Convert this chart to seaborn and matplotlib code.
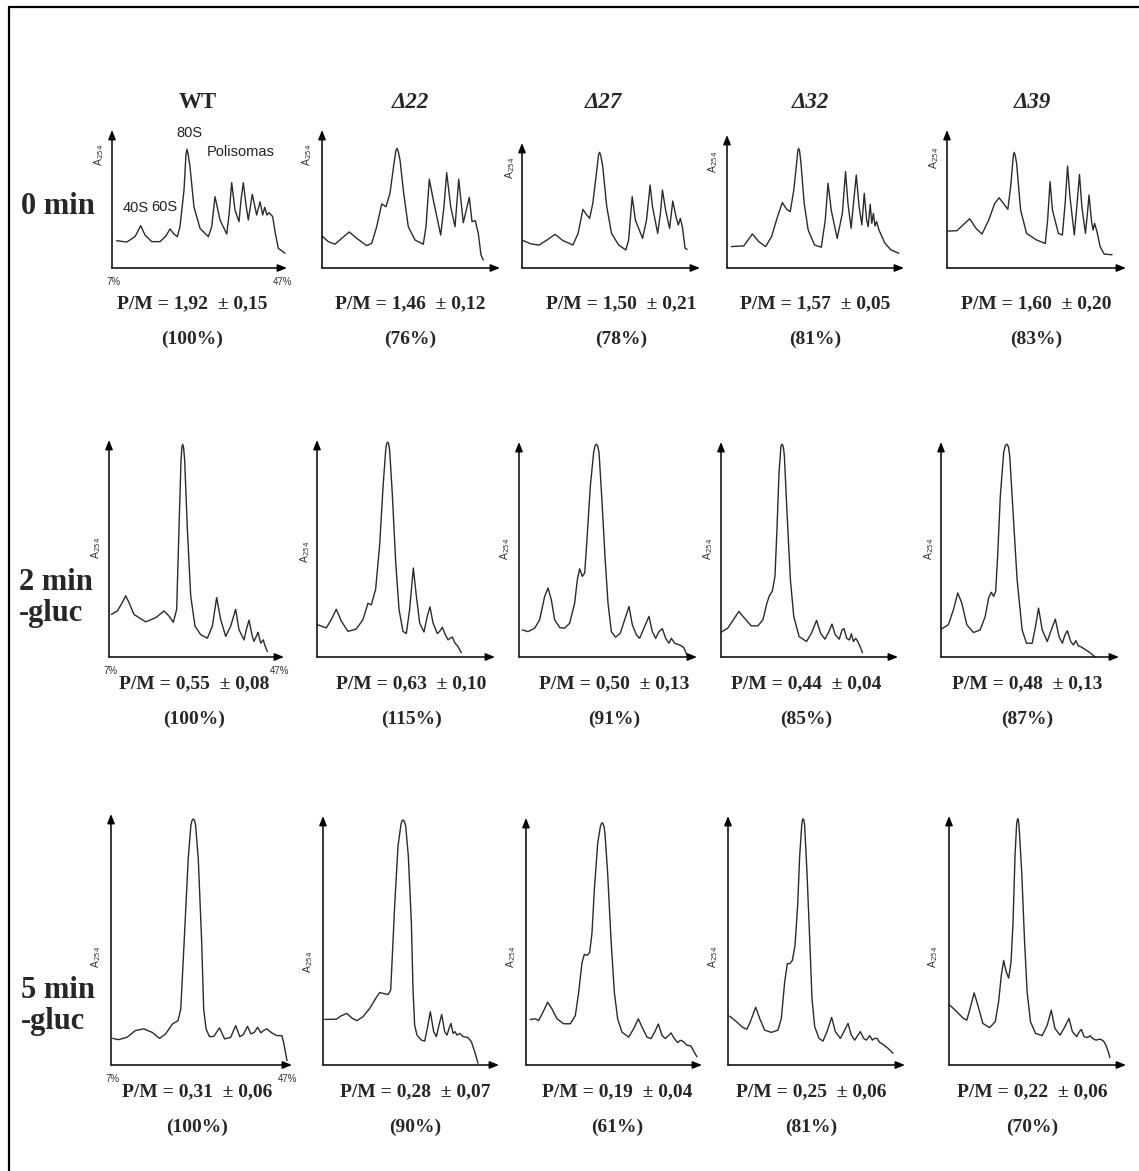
import matplotlib
matplotlib.use("Agg")
import matplotlib.pyplot as plt
from matplotlib.lines import Line2D
import seaborn as sns

# ---------------- data ----------------
strains = ["WT", "Δ22", "Δ27", "Δ32", "Δ39"]
conditions = ["0 min", "2 min\n-gluc", "5 min\n-gluc"]

pm_values = [["1,92", "1,46", "1,50", "1,57", "1,60"],
             ["0,55", "0,63", "0,50", "0,44", "0,48"],
             ["0,31", "0,28", "0,19", "0,25", "0,22"]]
pm_errors = [["0,15", "0,12", "0,21", "0,05", "0,20"],
             ["0,08", "0,10", "0,13", "0,04", "0,13"],
             ["0,06", "0,07", "0,04", "0,06", "0,06"]]
pm_percent = [["100", "76", "78", "81", "83"],
              ["100", "115", "91", "85", "87"],
              ["100", "90", "61", "81", "70"]]

gradient_ticks = ["7%", "47%"]
wt_peak_labels = ["40S", "60S", "80S", "Polisomas"]

# profiles: x = sucrose gradient position (%), y = relative A254
wt0_x = [8.07, 10.36, 12.26, 13.56, 14.54, 16.07, 17.97, 19.34, 20.26, 21.17, 21.93, 22.54, 23.46, 23.9, 24.14, 24.4, 24.83, 25.74, 27.11, 29.01, 29.79, 30.54, 31.69, 33.22, 33.75, 34.36, 35.11, 36.03, 36.49, 37.01, 37.63, 38.15, 39.07, 40.07, 40.83, 41.45, 41.90, 42.43, 42.89, 43.73, 44.33, 45.01, 46.54]
wt0_y = [19.8, 18.8, 22.7, 30.7, 23.9, 19.1, 19.1, 23.2, 28.3, 24.6, 22.7, 29.9, 56.5, 82.0, 86.0, 82.5, 73.2, 44.2, 28.8, 22.7, 29.9, 51.7, 34.8, 24.6, 38.4, 61.8, 42.0, 33.6, 49.3, 61.8, 45.7, 34.8, 53.4, 38.4, 48.0, 38.4, 44.0, 38.4, 40.1, 37.2, 25.1, 14.3, 10.7]

d22_0_x = [7.0, 8.42, 9.92, 11.43, 13.13, 14.80, 17.04, 18.17, 19.29, 20.41, 21.38, 22.28, 23.18, 23.6, 23.85, 24.1, 24.53, 25.27, 26.39, 27.90, 29.76, 30.37, 31.11, 32.01, 33.67, 34.41, 35.02, 35.92, 36.89, 37.72, 38.75, 40.10, 40.71, 41.45, 42.12, 42.73, 43.24]
d22_0_y = [23.2, 19.1, 17.2, 21.5, 26.1, 21.5, 16.2, 17.9, 29.9, 46.4, 44.4, 54.1, 75.9, 85.0, 86.7, 85.0, 78.3, 56.5, 29.9, 20.3, 17.2, 29.9, 64.3, 49.3, 23.9, 44.4, 69.1, 44.4, 29.9, 64.3, 32.8, 51.2, 33.6, 34.3, 25.1, 9.4, 5.8]

d27_0_x = [7.27, 9.06, 10.84, 12.63, 14.42, 16.21, 18.44, 19.61, 20.68, 21.57, 22.20, 22.91, 23.81, 24.2, 24.43, 24.7, 25.15, 26.04, 27.12, 28.72, 30.33, 30.96, 31.76, 32.48, 34.09, 34.98, 35.79, 36.32, 37.49, 38.11, 38.56, 39.27, 40.17, 40.88, 41.60, 42.13, 42.58, 43.03, 43.65, 44.10]
d27_0_y = [21.9, 19.2, 18.4, 22.4, 26.9, 21.9, 18.4, 27.7, 46.9, 42.4, 39.7, 51.7, 78.4, 90.5, 92.5, 90.0, 81.1, 49.1, 27.7, 18.4, 14.4, 22.4, 57.1, 38.4, 23.7, 38.4, 66.4, 49.1, 27.7, 43.7, 62.4, 46.4, 31.7, 53.6, 41.1, 34.4, 39.7, 33.1, 15.7, 14.9]

d32_0_x = [8.0, 10.78, 12.75, 14.19, 15.72, 17.07, 18.42, 19.50, 20.49, 21.29, 22.10, 22.73, 23.0, 23.18, 23.4, 23.72, 24.44, 25.34, 26.78, 28.31, 29.21, 29.83, 30.55, 31.90, 33.07, 33.79, 34.33, 35.05, 35.59, 36.22, 36.85, 37.48, 38.02, 38.55, 38.91, 39.36, 39.72, 40.08, 40.44, 40.80, 41.34, 42.69, 44.04, 45.84]
d32_0_y = [16.1, 16.6, 25.6, 19.8, 16.1, 23.6, 38.6, 49.2, 44.1, 42.4, 58.7, 78.7, 88.0, 90.0, 88.0, 78.7, 48.7, 28.6, 17.3, 15.6, 36.1, 63.7, 43.6, 22.3, 41.1, 72.5, 48.7, 29.9, 48.7, 69.9, 46.1, 32.4, 56.2, 36.1, 31.1, 47.9, 33.6, 41.1, 31.6, 34.9, 28.6, 18.6, 13.6, 11.1]

d39_0_x = [7.27, 9.22, 10.56, 12.07, 13.49, 14.82, 16.33, 17.67, 18.65, 19.89, 20.60, 21.22, 21.67, 21.85, 22.02, 22.25, 22.56, 23.45, 24.78, 27.00, 28.96, 29.49, 30.03, 30.56, 31.89, 32.78, 33.40, 33.94, 34.47, 35.45, 36.07, 36.60, 37.14, 37.94, 38.38, 38.74, 39.27, 39.63, 39.98, 40.52, 41.23, 42.12, 43.89]
d39_0_y = [26.8, 27.0, 31.1, 35.7, 28.7, 24.6, 34.8, 46.8, 50.9, 45.6, 42.5, 58.9, 75.8, 82.0, 83.8, 81.5, 75.8, 42.0, 25.1, 20.3, 17.8, 34.8, 62.5, 42.0, 25.1, 23.9, 46.8, 73.9, 51.7, 23.9, 46.8, 67.8, 44.4, 25.1, 39.6, 52.9, 34.8, 27.5, 32.3, 26.3, 15.4, 10.1, 9.6]

wt2_x = [7.53, 8.90, 10.05, 10.81, 11.57, 12.71, 15.38, 17.67, 19.57, 20.71, 21.70, 22.47, 23.00, 23.46, 23.65, 23.84, 24.05, 24.30, 24.90, 25.67, 26.66, 27.95, 29.48, 30.62, 31.61, 32.52, 33.67, 34.81, 35.95, 36.71, 37.86, 38.39, 39.00, 39.76, 40.14, 40.67, 41.06, 41.67, 42.28, 42.58, 43.19]
wt2_y = [19.6, 21.2, 25.1, 28.2, 25.1, 19.6, 16.2, 18.1, 21.2, 18.9, 16.0, 22.0, 59.4, 90.5, 96.5, 98.0, 96.5, 90.5, 59.4, 28.2, 14.2, 10.3, 8.7, 14.2, 27.4, 17.3, 9.5, 14.2, 22.0, 12.6, 7.9, 12.6, 17.0, 9.5, 7.2, 9.5, 11.4, 6.4, 7.9, 5.6, 2.5]

d22_2_x = [7.00, 7.97, 9.10, 10.22, 11.34, 12.47, 13.97, 15.84, 17.34, 18.46, 19.21, 20.18, 21.08, 21.83, 22.43, 22.65, 22.88, 23.1, 23.33, 23.93, 24.68, 25.43, 26.32, 27.07, 27.82, 28.65, 29.32, 30.07, 31.04, 31.79, 32.39, 33.07, 34.04, 34.56, 35.16, 35.84, 36.44, 36.96, 37.41, 38.01, 38.61, 39.43]
d22_2_y = [15.0, 14.2, 13.4, 17.3, 22.0, 16.5, 11.8, 12.9, 17.3, 24.8, 24.0, 31.3, 51.6, 78.1, 95.2, 98.3, 99.0, 98.3, 95.2, 74.9, 43.8, 22.0, 11.8, 10.8, 22.0, 41.0, 28.2, 15.7, 11.5, 18.9, 23.1, 15.7, 10.8, 11.8, 13.7, 10.3, 7.9, 8.7, 9.2, 6.4, 5.1, 2.0]

d27_2_x = [7.75, 9.02, 10.52, 11.64, 12.77, 13.52, 14.27, 15.01, 16.14, 17.26, 18.38, 19.51, 20.11, 20.63, 21.23, 21.76, 22.28, 23.03, 23.78, 24.08, 24.38, 24.68, 24.98, 25.58, 26.32, 27.00, 27.75, 28.72, 29.77, 30.74, 31.72, 32.47, 33.37, 34.11, 35.24, 36.21, 36.96, 37.71, 38.46, 39.21, 39.96, 40.71, 41.23, 41.98, 43.10, 44.00, 44.75]
d27_2_y = [12.6, 11.8, 13.4, 17.3, 28.2, 32.1, 26.6, 17.3, 13.7, 13.4, 15.7, 25.1, 36.0, 41.0, 37.5, 39.1, 54.7, 79.6, 95.2, 98.2, 99.0, 98.2, 95.2, 74.9, 46.9, 25.1, 11.8, 9.2, 11.1, 17.3, 23.5, 15.0, 10.3, 8.7, 14.2, 18.9, 11.8, 8.7, 11.8, 13.2, 8.7, 6.4, 8.7, 6.4, 5.6, 4.5, 0.9]

d32_2_x = [7.00, 8.52, 9.80, 11.02, 12.30, 13.82, 15.33, 16.47, 17.38, 17.98, 18.59, 19.20, 19.65, 20.11, 20.56, 20.86, 21.1, 21.32, 21.92, 22.68, 23.44, 24.65, 26.32, 27.45, 28.59, 29.50, 30.48, 31.39, 32.08, 32.83, 33.74, 34.35, 34.80, 35.41, 36.02, 36.47, 36.92, 37.45, 37.91, 38.44, 38.97]
d32_2_y = [11.5, 13.4, 17.3, 21.2, 18.1, 14.5, 14.5, 17.3, 25.1, 28.7, 30.5, 37.6, 59.4, 85.8, 98.3, 99.0, 97.5, 93.6, 67.2, 36.0, 18.9, 9.5, 7.2, 11.1, 17.0, 11.1, 8.3, 11.8, 15.3, 10.3, 8.3, 12.6, 13.2, 8.7, 7.9, 10.8, 7.2, 8.7, 7.2, 4.8, 2.0]

d39_2_x = [7.15, 8.66, 9.79, 10.77, 11.67, 12.80, 14.31, 15.81, 16.94, 17.70, 18.30, 18.83, 19.28, 19.73, 20.33, 21.09, 21.45, 21.84, 22.15, 22.44, 23.20, 24.10, 25.23, 26.21, 27.49, 28.24, 28.92, 29.75, 30.88, 31.78, 32.69, 33.52, 34.27, 34.87, 35.40, 36.15, 36.75, 37.28, 37.89, 38.41, 39.54, 40.67, 41.58]
d39_2_y = [13.1, 15.0, 22.0, 29.8, 25.1, 15.0, 11.4, 12.6, 18.9, 27.4, 30.1, 28.2, 30.5, 46.9, 74.9, 95.2, 98.3, 99.0, 97.8, 93.6, 67.2, 36.0, 12.6, 6.4, 6.4, 14.2, 22.7, 12.6, 7.2, 12.6, 17.6, 9.5, 6.4, 10.3, 12.2, 7.2, 5.6, 7.6, 5.1, 4.8, 3.3, 1.7, 0.1]

wt5_x = [7.37, 8.64, 10.50, 12.36, 14.23, 16.09, 17.73, 19.07, 20.56, 21.82, 22.42, 23.16, 24.06, 24.65, 24.92, 25.18, 25.45, 25.70, 26.29, 27.04, 27.48, 28.01, 28.75, 29.72, 30.99, 32.10, 33.44, 34.56, 35.46, 36.20, 37.17, 37.91, 38.66, 39.40, 40.15, 40.67, 41.41, 42.53, 43.65, 44.77, 45.14, 45.9]
wt5_y = [10.6, 10.1, 11.0, 13.7, 14.4, 13.0, 10.6, 12.4, 16.3, 17.7, 22.3, 48.9, 82.1, 95.4, 97.5, 98.0, 97.5, 95.4, 82.1, 48.9, 22.3, 14.4, 11.3, 11.4, 14.8, 10.4, 11.0, 15.7, 11.3, 12.0, 15.4, 12.4, 13.0, 15.0, 12.8, 13.7, 14.4, 12.8, 11.7, 11.7, 9.0, 1.7]

d22_5_x = [7.38, 10.03, 11.17, 12.45, 13.67, 14.73, 16.09, 17.61, 18.97, 19.88, 20.79, 21.77, 22.38, 22.76, 23.29, 24.05, 24.73, 24.95, 25.18, 25.5, 25.79, 26.39, 27.08, 27.45, 27.83, 28.36, 29.35, 30.11, 30.71, 31.39, 32.15, 32.76, 33.36, 33.97, 34.65, 35.18, 35.64, 36.09, 36.55, 37.00, 37.45, 38.06, 38.82, 39.95, 40.71, 41.47, 42.23]
d22_5_y = [18.3, 18.4, 19.8, 20.7, 18.7, 17.8, 19.4, 22.7, 26.7, 29.1, 28.7, 28.3, 30.0, 44.0, 64.0, 88.0, 96.7, 98.0, 98.4, 97.8, 96.0, 84.0, 57.3, 30.7, 16.0, 12.0, 10.0, 9.6, 14.7, 21.4, 13.4, 11.4, 16.0, 20.3, 13.4, 12.0, 14.7, 16.7, 12.7, 13.4, 12.0, 12.7, 11.4, 11.0, 9.4, 5.4, 0.7]

d27_5_x = [7.98, 9.12, 9.88, 10.86, 11.92, 12.91, 14.05, 15.56, 17.08, 18.21, 18.97, 19.73, 20.26, 20.86, 21.47, 22.00, 22.53, 23.29, 23.89, 24.15, 24.42, 24.7, 24.95, 25.56, 26.32, 27.08, 27.83, 28.82, 30.33, 31.47, 32.53, 33.36, 34.50, 35.41, 36.24, 37.08, 37.91, 38.67, 39.43, 39.96, 40.71, 41.47, 42.08, 42.68, 43.59, 44.50, 45.11, 45.86]
d27_5_y = [18.4, 18.7, 18.0, 21.4, 25.4, 22.7, 18.7, 16.7, 16.7, 20.0, 29.4, 41.5, 44.8, 44.4, 45.5, 53.5, 70.9, 89.7, 96.4, 97.8, 98.0, 96.8, 93.7, 77.6, 50.8, 29.4, 18.7, 13.3, 11.3, 14.7, 18.7, 15.4, 11.3, 10.7, 13.3, 16.6, 12.0, 10.7, 12.0, 13.0, 10.7, 9.1, 10.0, 9.6, 8.0, 7.7, 5.6, 3.3]

d32_5_x = [7.38, 8.88, 10.39, 11.29, 12.05, 13.25, 14.16, 15.29, 16.79, 18.30, 19.05, 19.81, 20.41, 20.94, 21.54, 22.14, 22.74, 23.20, 23.65, 23.8, 23.95, 24.15, 24.33, 24.85, 25.46, 25.98, 26.59, 27.57, 28.47, 29.37, 30.43, 31.26, 32.39, 33.37, 34.12, 34.87, 35.63, 36.38, 36.91, 37.66, 38.26, 39.02, 39.62, 40.15, 40.67, 41.27, 42.03, 43.16, 44.29]
d32_5_y = [19.6, 17.4, 15.0, 14.4, 17.4, 23.2, 18.7, 14.0, 13.1, 14.0, 18.7, 33.4, 40.7, 40.7, 42.0, 48.0, 64.0, 84.0, 96.0, 98.3, 98.9, 98.3, 96.0, 77.3, 50.7, 26.7, 15.4, 10.7, 9.6, 13.4, 19.1, 13.4, 10.7, 14.0, 16.7, 12.0, 10.0, 12.0, 13.4, 10.7, 10.0, 11.8, 10.0, 10.7, 10.7, 9.1, 8.3, 6.7, 4.7]

d39_5_x = [7.23, 8.74, 10.26, 11.02, 11.77, 12.68, 13.52, 14.65, 16.17, 17.45, 18.21, 18.82, 19.35, 19.95, 20.49, 21.02, 21.47, 21.92, 22.30, 22.53, 22.68, 22.83, 23.44, 24.05, 24.65, 25.41, 26.55, 28.06, 29.20, 30.11, 30.94, 32.08, 32.99, 34.12, 34.88, 35.86, 36.47, 36.92, 37.53, 38.29, 38.89, 39.42, 40.18, 41.17, 41.93, 42.45, 42.98, 43.36]
d39_5_y = [24.0, 21.4, 18.7, 18.0, 22.7, 29.0, 24.0, 16.7, 15.0, 17.4, 25.4, 36.0, 42.0, 37.3, 34.9, 41.3, 57.3, 84.0, 97.3, 98.9, 98.3, 96.0, 77.3, 50.7, 29.4, 17.4, 12.7, 11.8, 16.0, 22.0, 14.7, 12.0, 14.7, 18.7, 13.4, 11.4, 13.4, 14.3, 11.4, 11.0, 11.8, 10.7, 10.0, 10.4, 9.6, 8.0, 5.4, 3.0]

profiles = [
    [(wt0_x, wt0_y), (d22_0_x, d22_0_y), (d27_0_x, d27_0_y), (d32_0_x, d32_0_y), (d39_0_x, d39_0_y)],
    [(wt2_x, wt2_y), (d22_2_x, d22_2_y), (d27_2_x, d27_2_y), (d32_2_x, d32_2_y), (d39_2_x, d39_2_y)],
    [(wt5_x, wt5_y), (d22_5_x, d22_5_y), (d27_5_x, d27_5_y), (d32_5_x, d32_5_y), (d39_5_x, d39_5_y)],
]

# ---------------- layout (pixels) ----------------
W, H = 1139, 1171
# (left, right, baseline, top) of each panel's axis frame
boxes = [
    [(112, 287, 268, 130), (322, 500, 268, 130), (522, 700, 268, 143), (727, 904, 268, 135), (947, 1126, 268, 130)],
    [(109, 284, 657, 440), (317, 495, 657, 440), (519, 697, 657, 442), (721, 898, 657, 442), (941, 1119, 657, 442)],
    [(111, 292, 1065, 814), (323, 499, 1065, 816), (526, 702, 1065, 818), (728, 905, 1065, 816), (949, 1126, 1065, 816)],
]
a254_pos = [
    [(99, 155), (307, 155), (510, 168), (713, 162), (934, 158)],
    [(96, 548), (305, 552), (505, 549), (708, 549), (929, 549)],
    [(96, 957), (308, 962), (511, 957), (713, 957), (933, 957)],
]
title_x = [198, 410, 603, 810, 1032]
title_y = 102
row_label_pos = [(21, 207), (19, 598), (21, 1006)]
pm_y = [304, 684, 1092]
pct_y = [339, 719, 1127]
pm_x = [[192, 410, 621, 815, 1036], [194, 411, 614, 806, 1027], [197, 415, 617, 811, 1032]]

SERIF = ["Liberation Serif", "DejaVu Serif"]
SANS = ["Liberation Sans", "DejaVu Sans"]

sns.set_style("white")
plt.rcParams["font.family"] = SANS


def fxp(px):
    return px / W


def fyp(py):
    return 1 - py / H


fig = plt.figure(figsize=(W / 100, H / 100), dpi=100)
fig.patch.set_facecolor("white")

# outer frame (left and top edges)
fig.add_artist(Line2D([fxp(9), fxp(9)], [fyp(7), fyp(H + 5)], transform=fig.transFigure,
                      color="black", lw=1.6))
fig.add_artist(Line2D([fxp(9), fxp(W + 5)], [fyp(7), fyp(7)], transform=fig.transFigure,
                      color="black", lw=1.6))

arrow_kw = dict(arrowstyle="-|>,head_length=0.55,head_width=0.22", color="black",
                lw=1.1, shrinkA=0, shrinkB=0)

for r in range(3):
    for c in range(5):
        x0, x1, yb, yt = boxes[r][c]
        ax = fig.add_axes([fxp(x0), fyp(yb), (x1 - x0) / W, (yb - yt) / H])
        xs, ys = profiles[r][c]
        sns.lineplot(x=xs, y=ys, ax=ax, color="#2b2b2b", lw=1.0, estimator=None, sort=False,
                     solid_joinstyle="round", solid_capstyle="round")
        ax.set_xlim(7, 47)
        ax.set_ylim(0, 100)
        ax.axis("off")
        ax.patch.set_alpha(0)
        ax.annotate("", xy=(1, 0), xytext=(0, 0), xycoords="axes fraction",
                    textcoords="axes fraction", arrowprops=arrow_kw, annotation_clip=False)
        ax.annotate("", xy=(0, 1), xytext=(0, 0), xycoords="axes fraction",
                    textcoords="axes fraction", arrowprops=arrow_kw, annotation_clip=False)
        ax_x, ax_y = a254_pos[r][c]
        fig.text(fxp(ax_x), fyp(ax_y), "A$_{254}$", rotation=90, ha="center", va="center",
                 fontsize=7.5, color="#333333", family=SANS)
        fig.text(fxp(pm_x[r][c]), fyp(pm_y[r]),
                 f"P/M = {pm_values[r][c]}  ± {pm_errors[r][c]}",
                 ha="center", va="center", fontsize=14, fontweight="bold", family=SERIF)
        fig.text(fxp(pm_x[r][c]), fyp(pct_y[r]), f"({pm_percent[r][c]}%)",
                 ha="center", va="center", fontsize=14, fontweight="bold", family=SERIF)

        if c == 0:
            fig.text(fxp(x0 + 2), fyp(yb + 14), gradient_ticks[0], ha="center", va="center",
                     fontsize=7, color="#333333", family=SANS)
            fig.text(fxp(x1 - 4), fyp(yb + 14), gradient_ticks[1], ha="center", va="center",
                     fontsize=7, color="#333333", family=SANS)

# column titles
for c, name in enumerate(strains):
    fig.text(fxp(title_x[c]), fyp(title_y), name, ha="center", va="center",
             fontsize=16.5, fontweight="bold", family=SERIF,
             style="normal" if c == 0 else "italic")

# row labels
for r, lab in enumerate(conditions):
    lx, ly = row_label_pos[r]
    fig.text(fxp(lx), fyp(ly), lab, ha="left", va="center", fontsize=22,
             fontweight="bold", family=SERIF, linespacing=1.1)

# WT peak annotations
ann_pos = [(136, 208), (164, 207), (189, 133), (241, 152)]
for lab, (px, py) in zip(wt_peak_labels, ann_pos):
    fig.text(fxp(px), fyp(py), lab, ha="center", va="center", fontsize=10.5,
             color="#222222", family=SANS)

fig.savefig("out.png", dpi=100)
